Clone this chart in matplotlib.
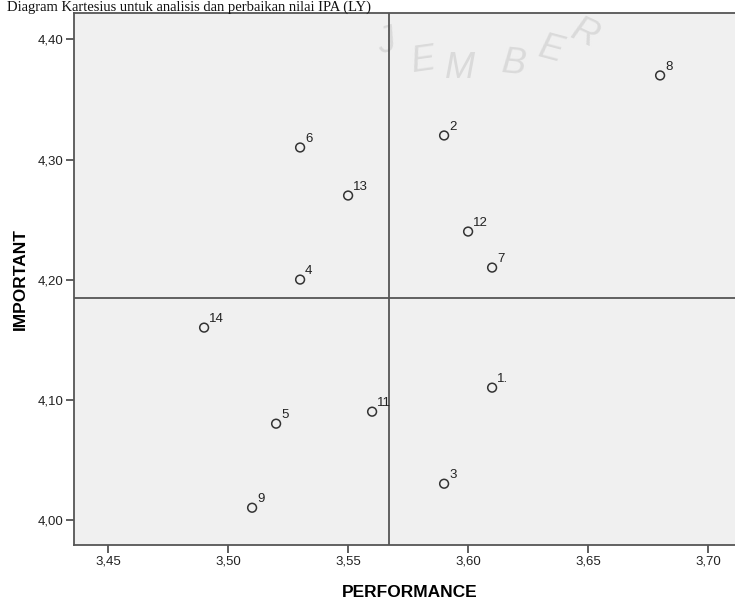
import numpy as np
import matplotlib
matplotlib.use("Agg")
import matplotlib.pyplot as plt
from matplotlib.ticker import FuncFormatter

# --- data ---
labels = ["1.", "2", "3", "4", "5", "6", "7", "8", "9", "11", "12", "13", "14"]
performance = [3.61, 3.59, 3.59, 3.53, 3.52, 3.53, 3.61, 3.68, 3.51, 3.56, 3.60, 3.55, 3.49]
important = [4.11, 4.32, 4.03, 4.20, 4.08, 4.31, 4.21, 4.37, 4.01, 4.09, 4.24, 4.27, 4.16]
xticks = [3.45, 3.50, 3.55, 3.60, 3.65, 3.70]
yticks = [4.00, 4.10, 4.20, 4.30, 4.40]

plt.rcParams["font.family"] = ["Liberation Sans", "DejaVu Sans"]

fig = plt.figure(figsize=(7.35, 5.99), dpi=100)
# the right edge of the plot runs a little past the page crop
ax = fig.add_axes([0.1007, 0.0902, 0.9143, 0.8881])
ax.set_facecolor("#f0f0f0")

# faint scanned watermark
wm = [(0.465, 0.945, 15), (0.52, 0.91, 8), (0.575, 0.895, 0),
      (0.655, 0.905, -6), (0.71, 0.93, -15), (0.76, 0.96, -25)]
for ch, (wx, wy, rot) in zip("JEMBER", wm):
    ax.text(wx, wy, ch, transform=ax.transAxes, fontsize=26, color="#dadada",
            rotation=rot, ha="center", va="center", zorder=0, style="italic")

# quadrant lines at the means
ax.axvline(np.mean(performance), color="#555555", lw=1.3, zorder=1)
ax.axhline(np.mean(important), color="#555555", lw=1.3, zorder=1)

ax.scatter(performance, important, s=40, facecolors="none", edgecolors="#333333",
           linewidths=1.1, zorder=3)
for x, y, t in zip(performance, important, labels):
    ax.annotate(t, (x, y), xytext=(3.5, 2), textcoords="offset points",
                fontsize=9.5, color="#222222", ha="left", va="bottom")

ax.set_xlim(3.4358, 3.7158)
ax.set_ylim(3.979, 4.422)
ax.set_xticks(xticks)
ax.set_yticks(yticks)
fmt = FuncFormatter(lambda v, p: f"{v:.2f}".replace(".", ","))
ax.xaxis.set_major_formatter(fmt)
ax.yaxis.set_major_formatter(fmt)
ax.tick_params(direction="out", length=6, width=1.2, color="#444444",
               labelsize=9.5, labelcolor="#222222", pad=1.5)

for s in ax.spines.values():
    s.set_color("#555555")
    s.set_linewidth(1.3)

ax.set_xlabel("PERFORMANCE", fontsize=12.5, fontweight="bold", labelpad=13)
ax.set_ylabel("IMPORTANT", fontsize=12.5, fontweight="bold", labelpad=7)

# caption from the scanned page
fig.text(0.01, 0.999, "Diagram Kartesius untuk analisis dan perbaikan nilai IPA (LY)",
         family="Liberation Serif", fontsize=10.5, color="#111111", ha="left", va="top")

fig.savefig("out.png", dpi=100)
